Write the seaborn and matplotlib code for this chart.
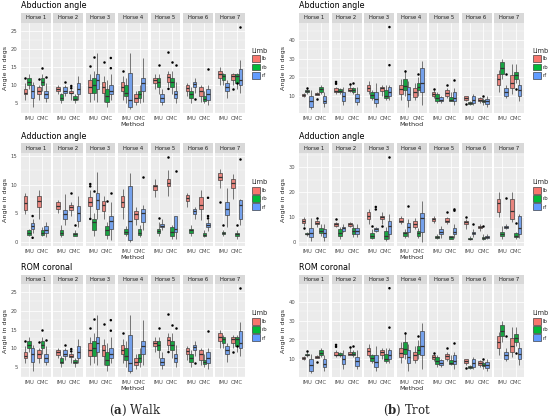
import numpy as np
import pandas as pd
import matplotlib
matplotlib.use("Agg")
import matplotlib.pyplot as plt
import seaborn as sns
from matplotlib.patches import Patch, Rectangle
from matplotlib.ticker import MultipleLocator

### Categorias
horses = ["Horse 1", "Horse 2", "Horse 3", "Horse 4", "Horse 5", "Horse 6", "Horse 7"]
methods = ["IMU", "OMC"]
limbs = ["lb", "rb", "rf"]
limb_colors = ["#F8766D", "#00BA38", "#619CFF"]

### Estadisticas de cada caja, una fila por caballo:
### IMU lb, IMU rb, IMU rf, OMC lb, OMC rb, OMC rf
# Walk - abduccion
wab_lo = [[6, 9, 4, 6, 8.5, 5.5], [7.5, 5, 7, 6, 5, 6], [5.5, 6, 5.5, 5.5, 4, 6], [6, 5, 3.5, 4.5, 5, 5.5],
          [9, 7.5, 4.5, 9.5, 7.5, 5], [7, 5, 8, 5.5, 5, 4.5], [10, 10, 6.5, 10, 9, 8]]
wab_q1 = [[7.5, 10, 6.5, 7.5, 10, 6.5], [8.3, 6, 8, 7.8, 6, 7.5], [8, 8, 9, 8, 5.5, 7.5], [8.5, 7, 4, 5.5, 6.5, 8.5],
          [10.5, 9.5, 5.5, 11, 9.5, 6.5], [8.5, 6.5, 9.5, 7, 5.8, 6], [12, 11.5, 8.5, 11.5, 10.5, 10]]
wab_md = [[8, 11, 8.5, 8.5, 11, 7.5], [9, 6.5, 8.5, 8, 6.3, 9], [9.5, 10, 11.5, 9.5, 7, 8.5], [9.5, 8, 6, 6.5, 7.5, 10.5],
          [11.5, 11, 6.5, 12.3, 11, 7.5], [9.2, 7.5, 10.3, 8.5, 6.3, 7.5], [13, 12.5, 9.5, 12.5, 12.5, 11.5]]
wab_q3 = [[9, 12, 10, 9.5, 12, 8.5], [9.5, 7.5, 9.5, 8.5, 7, 10.5], [11.5, 12, 13, 11, 9, 10], [11, 10, 13.5, 7.5, 8.5, 12],
          [12, 12, 7.5, 13, 12, 8.5], [10, 8.5, 11, 9.5, 7, 9], [14, 13, 10.5, 13, 13, 14.5]]
wab_hi = [[10.5, 13, 11, 10, 13, 10.5], [10, 8, 10, 9, 7.5, 12.5], [13, 14, 19, 12.5, 11.5, 13], [12.5, 12, 19, 8.5, 10, 17.5],
          [13, 13, 9, 14, 14, 11], [10.5, 9.5, 12, 10, 8.5, 10], [15, 13.5, 11.5, 13.5, 13.5, 17]]
wab_out = [(1, "IMU", "lb", 12), (1, "OMC", "rb", 14.8), (1, "OMC", "lb", 11.7), (1, "OMC", "rf", 12.3),
           (2, "IMU", "rf", 11), (2, "OMC", "lb", 9.8), (2, "OMC", "lb", 9.2),
           (3, "IMU", "lb", 15.3), (3, "IMU", "rb", 17.7), (3, "OMC", "lb", 16.5), (3, "OMC", "rf", 17.5),
           (3, "OMC", "rf", 14.7), (4, "IMU", "lb", 14),
           (5, "IMU", "rb", 15.5), (5, "OMC", "lb", 19), (5, "OMC", "lb", 9), (5, "OMC", "rb", 16.3),
           (5, "OMC", "rf", 15.5), (6, "IMU", "rf", 6.2), (6, "OMC", "rf", 14.5),
           (7, "OMC", "lb", 9), (7, "OMC", "rb", 10.5), (7, "OMC", "rf", 26)]

# Walk - aduccion
wad_lo = [[4.8, 1, 1.5, 4, 1, 0.8], [5, 0.8, 3, 4.5, 1, 2.5], [4, 1, 4, 4, 0.5, 0.3], [4, 1, 0, 3, 0.8, 2],
          [7.8, 1, 2, 8, 0.5, 0.5], [6, 1, 4, 3.8, 0.8, 1.8], [9.5, 1, 2.5, 7.5, 0.5, 3]]
wad_q1 = [[5.5, 1.2, 2.3, 6, 1.2, 1.5], [5.8, 1.2, 4, 5.5, 1, 3.7], [6.3, 2, 5.8, 5.3, 1.2, 2.3], [6, 1.3, 0.3, 4, 1.2, 3.5],
          [9, 1.5, 2.5, 9.8, 1, 1.7], [7.2, 1.6, 4.8, 5.8, 1, 2.5], [10.8, 1.3, 4.7, 9.5, 1, 4]]
wad_md = [[6.8, 1.6, 2.8, 7.2, 1.5, 2], [6.3, 1.6, 4.8, 6, 1.3, 5], [7, 3.5, 7.3, 6.5, 2, 3.7], [7, 1.7, 3.6, 4.8, 1.6, 5],
          [9.7, 1.9, 2.8, 10.3, 1.7, 2.2], [7.7, 2, 5.3, 6.5, 1.2, 3], [11.3, 1.5, 5.8, 10.3, 1.3, 6.5]]
wad_q3 = [[8, 2, 3.3, 8, 2, 2.7], [7, 2, 5.5, 6.5, 1.6, 6.2], [7.8, 4, 8.5, 7.2, 2.7, 4.5], [8, 2.2, 9.7, 5.3, 2.2, 5.8],
          [10, 2.3, 3.1, 11, 2.5, 4.5], [8.2, 2.3, 5.7, 7.8, 1.5, 3.3], [12, 1.7, 7, 11, 1.6, 7.3]]
wad_hi = [[8.5, 2.3, 4, 9, 2.5, 3.5], [7.3, 3, 8.3, 7, 2, 8], [9, 5, 12.2, 8, 3.5, 7], [9.3, 2.8, 12, 6, 3, 6.5],
          [11, 3.5, 4, 12.5, 3, 4.5], [8.5, 3, 6, 9, 2, 4], [12.8, 2, 9.5, 11.8, 2, 7.5]]
wad_out = [(1, "IMU", "rf", 4.5), (1, "IMU", "rf", 0.7), (2, "OMC", "lb", 8.5), (2, "OMC", "rb", 3),
           (3, "IMU", "lb", 10.1), (3, "IMU", "lb", 9.7), (3, "IMU", "lb", 4), (3, "IMU", "rb", 8.9),
           (3, "OMC", "rb", 7.1), (3, "OMC", "rf", 8.6), (4, "OMC", "rf", 11.4),
           (5, "IMU", "rb", 4.2), (5, "OMC", "lb", 14.8), (5, "OMC", "rf", 12.4),
           (6, "OMC", "rf", 4.5), (6, "OMC", "rf", 4.1), (6, "OMC", "rf", 7.7),
           (7, "IMU", "lb", 7), (7, "IMU", "rb", 3), (7, "OMC", "rb", 3), (7, "OMC", "rf", 14.5)]

# Trot - abduccion
tab_lo = [[9.5, 11, 3, 10.5, 11, 4], [11, 11, 5, 12, 11, 5], [11, 8, 4, 10, 8, 8], [8, 10, 4, 8, 10, 5],
          [9, 6, 6, 9, 7, 5], [7, 5, 5, 6, 5, 4], [12, 19, 9, 11, 17, 7]]
tab_q1 = [[10, 12, 4, 10.5, 12, 6], [12, 12, 7.5, 12.5, 12, 6.5], [12.5, 9, 6, 12.5, 9, 10], [11, 13, 8, 9.5, 13, 12],
          [10, 7.5, 7, 10, 7.5, 7.5], [8, 5.5, 6, 7, 6.5, 5.5], [16, 22, 10, 14, 19, 10]]
tab_md = [[10.5, 12.5, 7, 11, 13.5, 7.5], [12.5, 12.5, 10, 13, 13, 9], [14.5, 10.5, 8.5, 14, 10, 12], [13.5, 15.5, 11, 12, 15, 17],
          [11, 9, 8, 11.5, 8, 9], [9, 6, 8, 8, 7, 7], [19, 25, 12, 17, 21, 13]]
tab_q3 = [[11, 13, 10, 11.5, 15, 10], [14, 13.5, 12, 14, 14, 11], [16, 12, 12, 15, 13, 15], [16, 19, 15, 14, 17, 25],
          [12, 11, 9.5, 13, 9.5, 12], [10, 6.5, 10, 9, 8, 8.5], [22, 28, 14, 21, 23, 16]]
tab_hi = [[11.5, 14, 13, 12, 16, 12], [15, 14, 15, 16, 15, 15], [18, 13, 17, 16, 16, 16], [19, 24, 18, 17, 20, 29],
          [13, 12, 10, 14, 12, 14], [10, 7, 11, 9.5, 9, 10], [24, 30, 16, 27, 27, 19]]
tab_out = [(1, "IMU", "rb", 14.5), (1, "OMC", "lb", 8.5), (2, "IMU", "lb", 17.5), (2, "IMU", "lb", 16.5),
           (2, "OMC", "lb", 16.5), (2, "OMC", "rb", 17), (3, "OMC", "rf", 47), (3, "OMC", "rf", 26.5),
           (4, "IMU", "rb", 23.5), (4, "OMC", "rb", 22), (5, "IMU", "lb", 13.5), (5, "OMC", "lb", 16),
           (5, "OMC", "rf", 18.5), (6, "IMU", "lb", 5.5), (6, "OMC", "rb", 10),
           (7, "IMU", "rf", 22), (7, "OMC", "rb", 13.5)]

# Trot - aduccion
tad_lo = [[6.5, 2.5, 0.5, 6, 2.5, 0.5], [6, 1, 4, 6, 2, 2], [7, 1, 4, 7, 0.5, 1], [7, 1.5, 2, 5, 1.5, 0],
          [7.5, 1, 1.5, 7, 1, 1.5], [5, 0.8, 2, 4.5, 0.8, 1], [10, 1, 5, 8, 1, 1.5]]
tad_q1 = [[7.5, 3, 2, 7, 3.5, 2], [6.5, 2.5, 4.5, 6.5, 3, 3], [9, 1.5, 4.5, 9, 1, 3], [8, 2.5, 4, 6, 2.5, 4],
          [8.5, 1.5, 3, 8, 1.3, 3], [7, 1, 3, 5.5, 1, 1.5], [12, 2.5, 5.5, 9, 2, 3]]
tad_md = [[8.5, 3.2, 3.5, 7.5, 4.5, 3.5], [7, 3.5, 5.5, 7, 4.5, 4.5], [10.5, 2.5, 5, 10, 2.5, 6.5], [8.5, 3.5, 6, 7, 3.5, 9.5],
          [9, 2, 4, 8.5, 1.8, 4], [8, 1.2, 3.5, 6, 1.5, 2], [15.5, 3, 6, 12.5, 2.5, 5.5]]
tad_q3 = [[9, 3.5, 5.5, 8.5, 5.5, 5], [7.5, 5, 6, 7.5, 5.5, 5.5], [12, 3.5, 5.5, 10.5, 4.5, 8.5], [9.5, 4, 7.5, 8.5, 4.5, 11.5],
          [9.5, 2.5, 5, 9.5, 2.3, 5.5], [8.5, 1.5, 4, 6.5, 2, 2.5], [17, 4, 6.5, 17, 3.5, 10.5]]
tad_hi = [[10, 4, 9.5, 9, 7, 7], [8, 6, 7, 8, 7, 7], [13, 5, 6, 12, 6, 11], [10.5, 5, 9, 9.5, 5.5, 16.5],
          [10.5, 3, 6.5, 10, 2.5, 7], [9, 2.5, 5, 7, 3, 3], [20, 6.5, 7, 20, 4, 11]]
tad_out = [(1, "IMU", "lb", 5.5), (1, "OMC", "lb", 9.5), (2, "IMU", "lb", 9), (3, "IMU", "rb", 6.5),
           (3, "IMU", "rf", 14), (3, "IMU", "rf", 13), (3, "OMC", "lb", 6.5), (3, "OMC", "rf", 34),
           (4, "IMU", "rf", 14.5), (5, "OMC", "lb", 12), (5, "OMC", "rf", 13), (5, "OMC", "rf", 12.5),
           (6, "IMU", "lb", 10), (6, "IMU", "rf", 7), (6, "OMC", "rb", 6.5),
           (7, "IMU", "rf", 17.5), (7, "OMC", "rb", 7.5)]


### Convierte las estadisticas a formato largo (5 valores por caja -> cuartiles exactos)
def a_largo(lo, q1, md, q3, hi):
    filas = []
    for h in range(len(horses)):
        for m, met in enumerate(methods):
            for l, limb in enumerate(limbs):
                c = m * 3 + l
                for v in (lo[h][c], q1[h][c], md[h][c], q3[h][c], hi[h][c]):
                    filas.append((horses[h], met, limb, v))
    return pd.DataFrame(filas, columns=["Horse", "Method", "Limb", "Angle"])


def outl_df(lista):
    return pd.DataFrame([(horses[h - 1], m, l, v) for h, m, l, v in lista],
                        columns=["Horse", "Method", "Limb", "Angle"])


walk_abd = a_largo(wab_lo, wab_q1, wab_md, wab_q3, wab_hi)
walk_add = a_largo(wad_lo, wad_q1, wad_md, wad_q3, wad_hi)
trot_abd = a_largo(tab_lo, tab_q1, tab_md, tab_q3, tab_hi)
trot_add = a_largo(tad_lo, tad_q1, tad_md, tad_q3, tad_hi)
walk_abd_o = outl_df(wab_out)
walk_add_o = outl_df(wad_out)
trot_abd_o = outl_df(tab_out)
trot_add_o = outl_df(tad_out)

sns.set_theme(style="darkgrid")
plt.rcParams["font.family"] = ["DejaVu Sans"]

W, H = 550, 419
fig = plt.figure(figsize=(W / 100, H / 100), dpi=100)
fig.patch.set_facecolor("white")

paleta = dict(zip(limbs, limb_colors))
negro = {l: "black" for l in limbs}


def dibujar_panel(df, dfo, titulo, x0, paso, fw, fila, mayor, ylab_x, leg_x):
    st, pt, pb = fila
    allv = pd.concat([df["Angle"], dfo["Angle"]])
    rng = allv.max() - allv.min()
    ylim = (allv.min() - 0.05 * rng, allv.max() + 0.05 * rng)
    sh = (pt - st) / (pb - pt)
    for h, horse in enumerate(horses):
        left = x0 + h * paso
        ax = fig.add_axes([left / W, 1 - pb / H, fw / W, (pb - pt) / H])
        ax.set_facecolor("#EBEBEB")
        sub = df[df["Horse"] == horse]
        sns.boxplot(data=sub, x="Method", y="Angle", hue="Limb", order=methods, hue_order=limbs,
                    palette=paleta, width=0.8, gap=0, whis=(0, 100), showfliers=False,
                    linewidth=0.45, linecolor="#333333", medianprops={"linewidth": 0.9},
                    capprops={"linewidth": 0}, legend=False, ax=ax)
        osub = dfo[dfo["Horse"] == horse]
        if len(osub):
            sns.stripplot(data=osub, x="Method", y="Angle", hue="Limb", order=methods, hue_order=limbs,
                          palette=negro, dodge=True, jitter=False, size=1.8, linewidth=0,
                          legend=False, ax=ax)
        ax.set_xlim(-0.6, 1.6)
        ax.set_ylim(ylim)
        ax.yaxis.set_major_locator(MultipleLocator(mayor))
        ax.yaxis.set_minor_locator(MultipleLocator(mayor / 2))
        ax.grid(which="major", color="white", linewidth=0.55)
        ax.grid(which="minor", axis="y", color="white", linewidth=0.25)
        ax.set_axisbelow(True)
        for s in ax.spines.values():
            s.set_visible(False)
        ax.set_xlabel("")
        ax.set_ylabel("")
        ax.tick_params(axis="both", which="major", length=1.5, width=0.4, color="#333333",
                       labelsize=3.8, labelcolor="#4D4D4D", pad=1)
        ax.tick_params(which="minor", length=0)
        if h > 0:
            ax.tick_params(axis="y", length=0, labelleft=False)
        ax.add_patch(Rectangle((0, 1), 1, sh, transform=ax.transAxes, facecolor="#D9D9D9",
                               edgecolor="none", clip_on=False))
        ax.text(0.5, 1 + sh / 2, horse, transform=ax.transAxes, ha="center", va="center",
                fontsize=3.8, color="#1A1A1A")
    fig.text(x0 / W, 1 - (st - 7) / H, titulo, ha="left", va="center", fontsize=5.8, color="black")
    fig.text(ylab_x / W, 1 - ((pt + pb) / 2) / H, "Angle in degs", rotation=90,
             ha="center", va="center", fontsize=4.6)
    centro = x0 + (6 * paso + fw) / 2
    fig.text(centro / W, 1 - (pb + 11.5) / H, "Method", ha="center", va="center", fontsize=4.6)
    handles = [Patch(facecolor=c, edgecolor="#333333", linewidth=0.45) for c in limb_colors]
    fig.legend(handles, limbs, title="Limb", loc="upper left",
               bbox_to_anchor=(leg_x / W, 1 - ((pt + pb) / 2 - 23) / H),
               fontsize=3.8, title_fontsize=4.8, frameon=False, handlelength=1.5,
               handleheight=1.6, labelspacing=0.3, handletextpad=0.4, borderpad=0,
               alignment="left")


filas = [(13, 23, 113), (143, 153, 246), (275, 284, 377)]

# Walk
dibujar_panel(walk_abd, walk_abd_o, "Abduction angle", 21, 32.4, 29.5, filas[0], 5, 6, 249)
dibujar_panel(walk_add, walk_add_o, "Adduction angle", 21, 32.4, 29.5, filas[1], 5, 6, 249)
dibujar_panel(walk_abd, walk_abd_o, "ROM coronal", 21, 32.4, 29.5, filas[2], 5, 6, 249)
# Trot
dibujar_panel(trot_abd, trot_abd_o, "Abduction angle", 299, 32.5, 30, filas[0], 10, 283, 530)
dibujar_panel(trot_add, trot_add_o, "Adduction angle", 299, 32.5, 30, filas[1], 10, 283, 530)
dibujar_panel(trot_abd, trot_abd_o, "ROM coronal", 299, 32.5, 30, filas[2], 10, 283, 530)

plt.rcParams["mathtext.fontset"] = "dejavuserif"
fig.text(135 / W, 1 - 410 / H, r"($\mathbf{a}$) Walk", ha="center", va="center",
         fontsize=8.5, family="DejaVu Serif")
fig.text(407 / W, 1 - 410 / H, r"($\mathbf{b}$) Trot", ha="center", va="center",
         fontsize=8.5, family="DejaVu Serif")

fig.savefig("out.png", dpi=100)
